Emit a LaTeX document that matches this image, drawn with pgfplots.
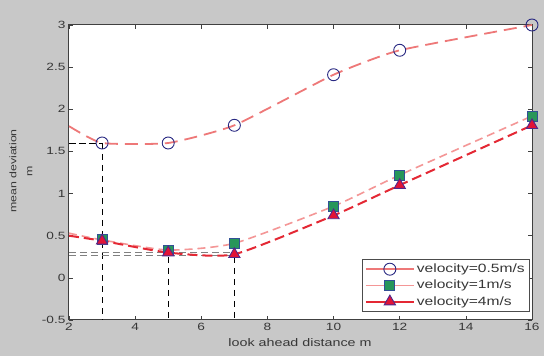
\documentclass[border=0pt]{standalone}
\usepackage{fontspec}
\setmainfont{Liberation Sans}[FakeStretch=1.3]
\usepackage{pgfplots}
\pgfplotsset{compat=1.18}
\definecolor{bg}{RGB}{200,200,200}
\definecolor{lnA}{RGB}{238,120,120}
\definecolor{lnB}{RGB}{244,150,150}
\definecolor{lnC}{RGB}{228,40,52}
\definecolor{navy}{RGB}{40,40,130}
\definecolor{sqfill}{RGB}{40,150,90}
\definecolor{sqedge}{RGB}{50,80,150}
\definecolor{trfill}{RGB}{225,20,55}
\definecolor{tredge}{RGB}{80,40,140}
\definecolor{txt}{RGB}{55,55,55}
\begin{document}
\begin{tikzpicture}[x=1pt,y=1pt]
\fill[bg] (0,0) rectangle (544,356);
\useasboundingbox (0,0) rectangle (544,356);
\begin{axis}[
  at={(69pt,36pt)}, anchor=south west,
  scale only axis, width=463pt, height=295pt,
  xmin=2, xmax=16, ymin=-0.5, ymax=3,
  xtick={2,4,...,16},
  ytick={-0.5,0,0.5,1,1.5,2,2.5,3},
  yticklabels={-0.5,0,0.5,1,1.5,2,2.5,3},
  axis background/.style={fill=white},
  axis line style={draw=black!75, line width=1pt},
  major tick length=4pt,
  tick style={black!75, line width=0.7pt},
  /pgf/number format/assume math mode=true,
  ticklabel style={font=\fontsize{10.5}{12}\selectfont, text=txt},
  xlabel={look ahead distance m},
  xlabel style={at={(axis description cs:0.499,-0.078)}, anchor=center, font=\fontsize{11}{12}\selectfont, text=txt},
  ylabel={mean deviation\\m},
  ylabel style={at={(axis description cs:-0.104,0.505)}, anchor=center, align=center, font=\fontsize{9.5}{16}\selectfont, text=txt},
  legend style={at={(0.996,0.027)}, anchor=south east, draw=black!70, line width=0.7pt,
    font=\fontsize{12}{12.5}\selectfont, text=txt, row sep=2pt, inner sep=3pt,
    cells={anchor=west}},
  legend image code/.code={\draw[#1, solid, mark=none] (0pt,0pt) -- (48pt,0pt);
     \draw[#1, solid, mark indices={1}] plot coordinates {(24pt,0pt)};},
]
% reference lines
\addplot[forget plot, black, line width=0.9pt, dash pattern=on 7pt off 3pt] coordinates {(2,1.6) (3,1.6)};
\addplot[forget plot, black, line width=0.9pt, dash pattern=on 6pt off 5pt] coordinates {(3,1.6) (3,-0.5)};
\addplot[forget plot, black, line width=0.9pt, dash pattern=on 6pt off 5pt] coordinates {(5,0.25) (5,-0.5)};
\addplot[forget plot, black, line width=0.9pt, dash pattern=on 6pt off 5pt] coordinates {(7,0.25) (7,-0.5)};
\addplot[forget plot, gray, line width=0.8pt, dash pattern=on 7pt off 4pt] coordinates {(2,0.30) (7,0.30)};
\addplot[forget plot, gray, line width=0.8pt, dash pattern=on 7pt off 4pt] coordinates {(2,0.27) (7,0.27)};
% series
\addplot[lnA, line width=1.8pt, dash pattern=on 13pt off 7pt, smooth, tension=0.3, mark=o, mark size=6pt,
  mark indices={2,3,4,5,6,7}, mark options={solid, draw=navy, fill=white, line width=0.9pt}]
  coordinates {(2,1.80) (3,1.60) (5,1.60) (7,1.81) (10,2.41) (12,2.70) (16,3.00)};
\addlegendentry{velocity=0.5m/s}
\addplot[lnB, line width=1.6pt, dash pattern=on 8pt off 5pt, smooth, tension=0.35, mark=square*, mark size=5pt,
  mark indices={2,3,4,5,6,7}, mark options={solid, draw=sqedge, fill=sqfill, line width=0.9pt}]
  coordinates {(2,0.53) (3,0.45) (5,0.33) (7,0.41) (10,0.85) (12,1.22) (16,1.92)};
\addlegendentry{velocity=1m/s}
\addplot[lnC, line width=2pt, dash pattern=on 10pt off 5pt, smooth, tension=0.35, mark=triangle*, mark size=6.5pt,
  mark indices={2,3,4,5,6,7}, mark options={solid, draw=tredge, fill=trfill, line width=0.9pt}]
  coordinates {(2,0.50) (3,0.44) (5,0.30) (7,0.28) (10,0.74) (12,1.10) (16,1.81)};
\addlegendentry{velocity=4m/s}
\end{axis}
\end{tikzpicture}
\end{document}
